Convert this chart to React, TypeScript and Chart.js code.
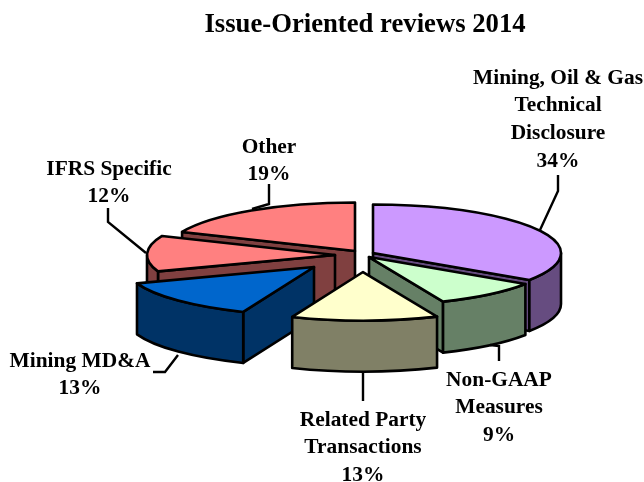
import React, { useEffect, useRef } from "react";
import { Chart, registerables } from "chart.js";

Chart.register(...registerables);

const titleText = "Issue-Oriented reviews 2014";
const categories = [
  ["Mining, Oil & Gas", "Technical", "Disclosure"],
  ["Non-GAAP", "Measures"],
  ["Related Party", "Transactions"],
  ["Mining MD&A"],
  ["IFRS Specific"],
  ["Other"],
];
const shares = [34.4, 9.2, 12.6, 13.4, 11.9, 18.6];

const topColors = ["#CC99FF", "#CCFFCC", "#FFFFCC", "#0066CC", "#FF8080", "#FF8080"];
const wallColors = ["#664C80", "#668066", "#808066", "#003366", "#804040", "#804040"];

// Style and layout of the 3D look
const SQUASH = 0.258;
const DEPTH = 51;
const RADIUS = 188;
const explodeX = [8, 4, -2, -51, -30, -10];
const explodeY = [-7, -3, 12, 7, -5, -9];
const paintOrder = [5, 4, 0, 1, 3, 2];
const labelX = [558, 499, 363, 80, 109, 269];
const labelY = [78, 380, 420, 361, 169, 147];
const LINE_STEP = 27.7;
const leaders = [
  [[558, 175], [558, 191], [540, 230]],
  [[490, 345], [499, 346], [499, 361]],
  [[363, 372], [363, 401]],
  [[178, 355], [165, 372], [153, 372]],
  [[108, 208], [108, 222], [146, 253]],
  [[269, 184], [269, 204], [252, 209]],
];
const FONT_FAMILY = "'Liberation Serif', serif";

const pie3d = {
  id: "pie3d",
  beforeDatasetDraw(chart: any) {
    const ctx = chart.ctx;
    const arcs = chart.getDatasetMeta(0).data;
    for (const i of paintOrder) {
      const arc = arcs[i];
      const r = arc.outerRadius;
      const ry = r * SQUASH;
      const ax = arc.x + explodeX[i];
      const ay = arc.y + explodeY[i];
      const s = arc.startAngle;
      const e = arc.endAngle;
      ctx.save();
      ctx.lineWidth = 2.6;
      ctx.lineJoin = "round";
      ctx.strokeStyle = "#000";
      ctx.fillStyle = wallColors[i];
      const face = (t: number) => {
        const px = ax + r * Math.cos(t);
        const py = ay + ry * Math.sin(t);
        ctx.beginPath();
        ctx.moveTo(ax, ay);
        ctx.lineTo(px, py);
        ctx.lineTo(px, py + DEPTH);
        ctx.lineTo(ax, ay + DEPTH);
        ctx.closePath();
        ctx.fill();
        ctx.stroke();
      };
      if (-Math.cos(s) > 1e-6) face(s);
      if (Math.cos(e) > 1e-6) face(e);
      const lo = Math.max(s, 0);
      const hi = Math.min(e, Math.PI);
      if (lo < hi) {
        ctx.beginPath();
        ctx.ellipse(ax, ay, r, ry, 0, lo, hi);
        ctx.ellipse(ax, ay + DEPTH, r, ry, 0, hi, lo, true);
        ctx.closePath();
        ctx.fill();
        ctx.stroke();
      }
      // the slice itself, drawn by the library's arc element, flattened
      ctx.save();
      ctx.translate(ax, ay);
      ctx.scale(1, SQUASH);
      ctx.translate(-arc.x, -arc.y);
      arc.draw(ctx);
      ctx.restore();
      ctx.beginPath();
      ctx.moveTo(ax, ay);
      ctx.ellipse(ax, ay, r, ry, 0, s, e);
      ctx.closePath();
      ctx.stroke();
      ctx.restore();
    }
    return false;
  },
  afterDraw(chart: any) {
    const ctx = chart.ctx;
    ctx.save();
    ctx.strokeStyle = "#000";
    ctx.lineWidth = 2.4;
    for (const pts of leaders) {
      ctx.beginPath();
      pts.forEach((p, j) => (j ? ctx.lineTo(p[0], p[1]) : ctx.moveTo(p[0], p[1])));
      ctx.stroke();
    }
    ctx.fillStyle = "#000";
    ctx.font = `bold 21.4px ${FONT_FAMILY}`;
    ctx.textAlign = "center";
    ctx.textBaseline = "middle";
    categories.forEach((lines, i) => {
      const all = [...lines, `${Math.round(shares[i])}%`];
      all.forEach((t, j) => ctx.fillText(t, labelX[i], labelY[i] + j * LINE_STEP));
    });
    ctx.restore();
  },
};

export default function App() {
  const ref = useRef<HTMLCanvasElement>(null);
  useEffect(() => {
    const chart = new Chart(ref.current!, {
      type: "pie",
      data: {
        labels: categories.map((c) => c.join(" ")),
        datasets: [
          {
            data: shares,
            backgroundColor: topColors,
            borderWidth: 0,
            radius: RADIUS,
            clip: false,
          } as any,
        ],
      },
      options: {
        responsive: false,
        animation: false,
        events: [],
        layout: { padding: { left: 86, right: 0, top: 0, bottom: 9.8 } },
        plugins: {
          legend: { display: false },
          tooltip: { enabled: false },
          title: {
            display: true,
            text: titleText,
            fullSize: false,
            color: "#000",
            font: { family: FONT_FAMILY, size: 26.7, weight: "bold", lineHeight: 1.2 },
            padding: { top: 9.5, bottom: 6.3 },
          },
        },
      },
      plugins: [pie3d],
    } as any);
    return () => chart.destroy();
  }, []);
  return (
    <canvas
      ref={ref}
      width={644}
      height={482}
      style={{ position: "absolute", left: 0, top: 0, display: "block" }}
    />
  );
}
